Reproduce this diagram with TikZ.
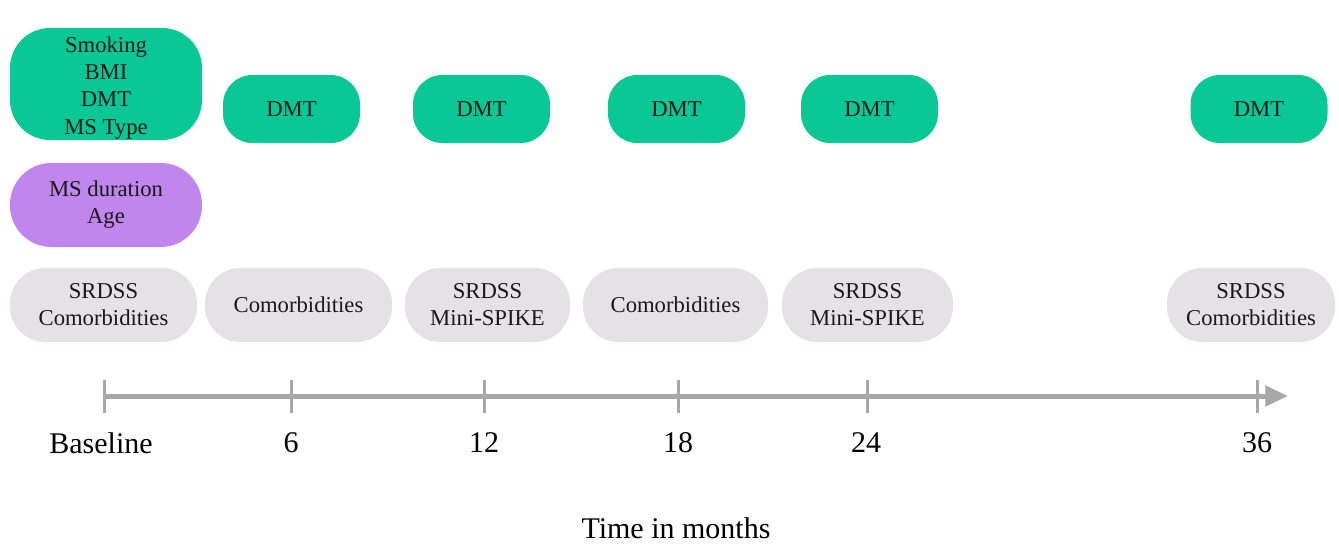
\documentclass[tikz,border=0pt]{standalone}
\usepackage{fontspec}
\setmainfont{Liberation Serif}
\usetikzlibrary{arrows.meta}
\definecolor{mgreen}{RGB}{10,200,150}
\definecolor{mpurple}{RGB}{192,134,238}
\definecolor{mgray}{RGB}{228,226,228}
\definecolor{lgray}{RGB}{168,168,168}
\definecolor{txt}{RGB}{25,25,25}
\begin{document}
\begin{tikzpicture}[x=0.75pt,y=-0.75pt,
  boxtext/.style={align=center,text=txt,font=\fontsize{17}{20.3}\selectfont,inner sep=0pt},
  greenbox/.style={boxtext,fill=mgreen,rounded corners=30pt},
  purplebox/.style={boxtext,fill=mpurple,rounded corners=31pt},
  dmtbox/.style={boxtext,fill=mgreen,minimum width=102.75pt,minimum height=51pt,rounded corners=22pt},
  graybox/.style={boxtext,fill=mgray,minimum height=55.5pt,rounded corners=26.5pt},
  tickline/.style={draw=lgray,line width=2.25pt},
  axis/.style={draw=lgray,line width=3.75pt,-{Triangle[length=17pt,width=15pt]}},
  lbl/.style={text=black,font=\fontsize{22.5}{26}\selectfont,inner sep=0pt}
]
\useasboundingbox (0,0) rectangle (1339,546);
% top row
\node[greenbox,minimum width=144pt,minimum height=84pt] (g0) at (106,84) {};
\node[boxtext] (g0t) at (106,88) {Smoking\\BMI\\DMT\\MS Type};
\node[purplebox,minimum width=144pt,minimum height=63pt] (p0) at (106,205) {MS duration\\Age};
\node[dmtbox] (d1) at (291.5,109) {DMT};
\node[dmtbox] (d2) at (481.5,109) {DMT};
\node[dmtbox] (d3) at (676.5,109) {DMT};
\node[dmtbox] (d4) at (869.5,109) {DMT};
\node[dmtbox] (d5) at (1259,109) {DMT};
% gray row
\node[graybox,minimum width=140.25pt] (s0) at (103.5,305) {SRDSS\\Comorbidities};
\node[graybox,minimum width=140.25pt] (s1) at (298.5,305) {Comorbidities};
\node[graybox,minimum width=123.75pt] (s2) at (487.5,305) {SRDSS\\Mini-SPIKE};
\node[graybox,minimum width=138.75pt] (s3) at (675.5,305) {Comorbidities};
\node[graybox,minimum width=128.25pt] (s4) at (867.5,305) {SRDSS\\Mini-SPIKE};
\node[graybox,minimum width=126pt] (s5) at (1251,305) {SRDSS\\Comorbidities};
% timeline
\coordinate (k0) at (104,396);
\coordinate (k1) at (291,396);
\coordinate (k2) at (484,396);
\coordinate (k3) at (678,396);
\coordinate (k4) at (867,396);
\coordinate (k5) at (1257,396);
\coordinate (kend) at (1288,396);
\draw[axis] (k0) -- (kend);
\foreach \k in {k0,k1,k2,k3,k4,k5}{
  \draw[tickline] ([yshift=12pt]\k) -- ([yshift=-12.75pt]\k);
}
\node[lbl] (l0) at (101,443) {Baseline};
\node[lbl] (l1) at (291,443) {6};
\node[lbl] (l2) at (484,443) {12};
\node[lbl] (l3) at (678,443) {18};
\node[lbl] (l4) at (866,443) {24};
\node[lbl] (l5) at (1257,443) {36};
\node[lbl] (tm) at (676,528) {Time in months};
\end{tikzpicture}
\end{document}
